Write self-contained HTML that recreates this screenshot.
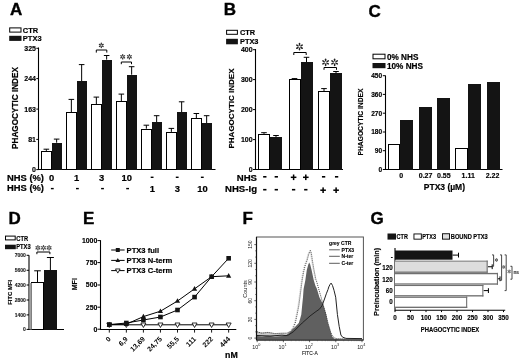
<!DOCTYPE html><html><head><meta charset="utf-8"><style>html,body{margin:0;padding:0;background:#fff;}svg{display:block;font-family:"Liberation Sans",sans-serif;filter:grayscale(1);}</style></head><body>
<svg width="520" height="361" viewBox="0 0 520 361">
<rect width="520" height="361" fill="#fff"/>
<text x="10.00" y="15.30" font-size="17" font-weight="bold" text-anchor="start" fill="#000"  stroke="#000" stroke-width="0.374">A</text>
<text x="223.80" y="15.20" font-size="17" font-weight="bold" text-anchor="start" fill="#000"  stroke="#000" stroke-width="0.374">B</text>
<text x="368.60" y="16.60" font-size="17" font-weight="bold" text-anchor="start" fill="#000"  stroke="#000" stroke-width="0.374">C</text>
<text x="8.40" y="223.80" font-size="17" font-weight="bold" text-anchor="start" fill="#000"  stroke="#000" stroke-width="0.374">D</text>
<text x="83.00" y="224.00" font-size="17" font-weight="bold" text-anchor="start" fill="#000"  stroke="#000" stroke-width="0.374">E</text>
<text x="242.60" y="224.00" font-size="17" font-weight="bold" text-anchor="start" fill="#000"  stroke="#000" stroke-width="0.374">F</text>
<text x="370.40" y="224.00" font-size="17" font-weight="bold" text-anchor="start" fill="#000"  stroke="#000" stroke-width="0.374">G</text>
<rect x="9.70" y="27.90" width="11.30" height="4.20" fill="#fff" stroke="#000" stroke-width="1"/>
<text x="22.80" y="32.80" font-size="7.5" font-weight="bold" text-anchor="start" fill="#000"  stroke="#000" stroke-width="0.165">CTR</text>
<rect x="9.20" y="35.80" width="12.30" height="5.10" fill="#141414"/>
<text x="22.80" y="41.00" font-size="7.5" font-weight="bold" text-anchor="start" fill="#000"  stroke="#000" stroke-width="0.165">PTX3</text>
<line x1="38.50" y1="47.50" x2="38.50" y2="170.00" stroke="#000" stroke-width="1.1" />
<line x1="38.50" y1="169.50" x2="215.50" y2="169.50" stroke="#000" stroke-width="1.1" />
<line x1="36.30" y1="48.30" x2="38.50" y2="48.30" stroke="#000" stroke-width="1" />
<text x="36.00" y="50.80" font-size="7" font-weight="bold" text-anchor="end" fill="#000"  stroke="#000" stroke-width="0.154">325</text>
<line x1="36.30" y1="78.60" x2="38.50" y2="78.60" stroke="#000" stroke-width="1" />
<text x="36.00" y="81.10" font-size="7" font-weight="bold" text-anchor="end" fill="#000"  stroke="#000" stroke-width="0.154">244</text>
<line x1="36.30" y1="109.10" x2="38.50" y2="109.10" stroke="#000" stroke-width="1" />
<text x="36.00" y="111.60" font-size="7" font-weight="bold" text-anchor="end" fill="#000"  stroke="#000" stroke-width="0.154">163</text>
<line x1="36.30" y1="139.40" x2="38.50" y2="139.40" stroke="#000" stroke-width="1" />
<text x="36.00" y="141.90" font-size="7" font-weight="bold" text-anchor="end" fill="#000"  stroke="#000" stroke-width="0.154">81</text>
<line x1="36.30" y1="169.60" x2="38.50" y2="169.60" stroke="#000" stroke-width="1" />
<text x="36.00" y="172.10" font-size="7" font-weight="bold" text-anchor="end" fill="#000"  stroke="#000" stroke-width="0.154">0</text>
<text transform="translate(14.80,108.00) rotate(-90) scale(1,1)" font-size="8.2" font-weight="bold" text-anchor="middle" fill="#000" dy="2.95" stroke="#000" stroke-width="0.180">PHAGOCYTIC INDEX</text>
<line x1="46.35" y1="150.90" x2="46.35" y2="149.20" stroke="#000" stroke-width="1.0" />
<line x1="43.55" y1="149.20" x2="49.15" y2="149.20" stroke="#000" stroke-width="1.0" />
<line x1="56.65" y1="142.70" x2="56.65" y2="139.10" stroke="#000" stroke-width="1.0" />
<line x1="53.85" y1="139.10" x2="59.45" y2="139.10" stroke="#000" stroke-width="1.0" />
<rect x="41.50" y="151.50" width="10.00" height="18.00" fill="#fff" stroke="#000" stroke-width="1.0"/>
<rect x="52.00" y="143.00" width="10.00" height="27.00" fill="#141414"/>
<line x1="71.35" y1="112.40" x2="71.35" y2="99.40" stroke="#000" stroke-width="1.0" />
<line x1="68.55" y1="99.40" x2="74.15" y2="99.40" stroke="#000" stroke-width="1.0" />
<line x1="81.65" y1="81.10" x2="81.65" y2="64.60" stroke="#000" stroke-width="1.0" />
<line x1="78.85" y1="64.60" x2="84.45" y2="64.60" stroke="#000" stroke-width="1.0" />
<rect x="66.50" y="112.50" width="10.00" height="57.00" fill="#fff" stroke="#000" stroke-width="1.0"/>
<rect x="77.00" y="81.00" width="10.00" height="89.00" fill="#141414"/>
<line x1="96.35" y1="104.40" x2="96.35" y2="97.10" stroke="#000" stroke-width="1.0" />
<line x1="93.55" y1="97.10" x2="99.15" y2="97.10" stroke="#000" stroke-width="1.0" />
<line x1="106.65" y1="59.60" x2="106.65" y2="55.50" stroke="#000" stroke-width="1.0" />
<line x1="103.85" y1="55.50" x2="109.45" y2="55.50" stroke="#000" stroke-width="1.0" />
<rect x="91.50" y="104.50" width="10.00" height="65.00" fill="#fff" stroke="#000" stroke-width="1.0"/>
<rect x="102.00" y="60.00" width="10.00" height="110.00" fill="#141414"/>
<line x1="121.35" y1="101.10" x2="121.35" y2="94.10" stroke="#000" stroke-width="1.0" />
<line x1="118.55" y1="94.10" x2="124.15" y2="94.10" stroke="#000" stroke-width="1.0" />
<line x1="131.65" y1="74.70" x2="131.65" y2="66.70" stroke="#000" stroke-width="1.0" />
<line x1="128.85" y1="66.70" x2="134.45" y2="66.70" stroke="#000" stroke-width="1.0" />
<rect x="116.50" y="101.50" width="10.00" height="68.00" fill="#fff" stroke="#000" stroke-width="1.0"/>
<rect x="127.00" y="75.00" width="10.00" height="95.00" fill="#141414"/>
<line x1="146.35" y1="128.70" x2="146.35" y2="125.20" stroke="#000" stroke-width="1.0" />
<line x1="143.55" y1="125.20" x2="149.15" y2="125.20" stroke="#000" stroke-width="1.0" />
<line x1="156.65" y1="122.00" x2="156.65" y2="115.70" stroke="#000" stroke-width="1.0" />
<line x1="153.85" y1="115.70" x2="159.45" y2="115.70" stroke="#000" stroke-width="1.0" />
<rect x="141.50" y="129.50" width="10.00" height="40.00" fill="#fff" stroke="#000" stroke-width="1.0"/>
<rect x="152.00" y="122.00" width="10.00" height="48.00" fill="#141414"/>
<line x1="171.35" y1="131.90" x2="171.35" y2="128.40" stroke="#000" stroke-width="1.0" />
<line x1="168.55" y1="128.40" x2="174.15" y2="128.40" stroke="#000" stroke-width="1.0" />
<line x1="181.65" y1="112.00" x2="181.65" y2="101.80" stroke="#000" stroke-width="1.0" />
<line x1="178.85" y1="101.80" x2="184.45" y2="101.80" stroke="#000" stroke-width="1.0" />
<rect x="166.50" y="132.50" width="10.00" height="37.00" fill="#fff" stroke="#000" stroke-width="1.0"/>
<rect x="177.00" y="112.00" width="10.00" height="58.00" fill="#141414"/>
<line x1="196.35" y1="118.40" x2="196.35" y2="113.50" stroke="#000" stroke-width="1.0" />
<line x1="193.55" y1="113.50" x2="199.15" y2="113.50" stroke="#000" stroke-width="1.0" />
<line x1="206.65" y1="123.30" x2="206.65" y2="115.70" stroke="#000" stroke-width="1.0" />
<line x1="203.85" y1="115.70" x2="209.45" y2="115.70" stroke="#000" stroke-width="1.0" />
<rect x="191.50" y="118.50" width="10.00" height="51.00" fill="#fff" stroke="#000" stroke-width="1.0"/>
<rect x="202.00" y="123.00" width="10.00" height="47.00" fill="#141414"/>
<polyline points="96.30,52.60 96.30,50.00 106.80,50.00 106.80,52.60" fill="none" stroke="#000" stroke-width="1" />
<line x1="101.30" y1="44.86" x2="101.30" y2="43.91" stroke="#333" stroke-width="0.91" stroke-opacity="0.75"/>
<line x1="101.30" y1="43.91" x2="101.30" y2="43.24" stroke="#333" stroke-width="1.30" stroke-linecap="round"/>
<line x1="101.77" y1="45.13" x2="102.59" y2="44.66" stroke="#333" stroke-width="0.91" stroke-opacity="0.75"/>
<line x1="102.59" y1="44.66" x2="103.17" y2="44.32" stroke="#333" stroke-width="1.30" stroke-linecap="round"/>
<line x1="100.83" y1="45.13" x2="100.01" y2="44.66" stroke="#333" stroke-width="0.91" stroke-opacity="0.75"/>
<line x1="100.01" y1="44.66" x2="99.43" y2="44.32" stroke="#333" stroke-width="1.30" stroke-linecap="round"/>
<line x1="101.30" y1="45.94" x2="101.30" y2="46.88" stroke="#333" stroke-width="0.91" stroke-opacity="0.75"/>
<line x1="101.30" y1="46.88" x2="101.30" y2="47.56" stroke="#333" stroke-width="1.30" stroke-linecap="round"/>
<line x1="100.83" y1="45.67" x2="100.01" y2="46.14" stroke="#333" stroke-width="0.91" stroke-opacity="0.75"/>
<line x1="100.01" y1="46.14" x2="99.43" y2="46.48" stroke="#333" stroke-width="1.30" stroke-linecap="round"/>
<line x1="101.77" y1="45.67" x2="102.59" y2="46.14" stroke="#333" stroke-width="0.91" stroke-opacity="0.75"/>
<line x1="102.59" y1="46.14" x2="103.17" y2="46.48" stroke="#333" stroke-width="1.30" stroke-linecap="round"/>
<polyline points="121.30,64.20 121.30,62.00 131.50,62.00 131.50,64.20" fill="none" stroke="#000" stroke-width="1" />
<line x1="122.70" y1="56.26" x2="122.70" y2="55.31" stroke="#333" stroke-width="0.91" stroke-opacity="0.75"/>
<line x1="122.70" y1="55.31" x2="122.70" y2="54.64" stroke="#333" stroke-width="1.30" stroke-linecap="round"/>
<line x1="123.17" y1="56.53" x2="123.99" y2="56.06" stroke="#333" stroke-width="0.91" stroke-opacity="0.75"/>
<line x1="123.99" y1="56.06" x2="124.57" y2="55.72" stroke="#333" stroke-width="1.30" stroke-linecap="round"/>
<line x1="122.23" y1="56.53" x2="121.41" y2="56.06" stroke="#333" stroke-width="0.91" stroke-opacity="0.75"/>
<line x1="121.41" y1="56.06" x2="120.83" y2="55.72" stroke="#333" stroke-width="1.30" stroke-linecap="round"/>
<line x1="122.70" y1="57.34" x2="122.70" y2="58.28" stroke="#333" stroke-width="0.91" stroke-opacity="0.75"/>
<line x1="122.70" y1="58.28" x2="122.70" y2="58.96" stroke="#333" stroke-width="1.30" stroke-linecap="round"/>
<line x1="122.23" y1="57.07" x2="121.41" y2="57.54" stroke="#333" stroke-width="0.91" stroke-opacity="0.75"/>
<line x1="121.41" y1="57.54" x2="120.83" y2="57.88" stroke="#333" stroke-width="1.30" stroke-linecap="round"/>
<line x1="123.17" y1="57.07" x2="123.99" y2="57.54" stroke="#333" stroke-width="0.91" stroke-opacity="0.75"/>
<line x1="123.99" y1="57.54" x2="124.57" y2="57.88" stroke="#333" stroke-width="1.30" stroke-linecap="round"/>
<line x1="129.40" y1="56.26" x2="129.40" y2="55.31" stroke="#333" stroke-width="0.91" stroke-opacity="0.75"/>
<line x1="129.40" y1="55.31" x2="129.40" y2="54.64" stroke="#333" stroke-width="1.30" stroke-linecap="round"/>
<line x1="129.87" y1="56.53" x2="130.69" y2="56.06" stroke="#333" stroke-width="0.91" stroke-opacity="0.75"/>
<line x1="130.69" y1="56.06" x2="131.27" y2="55.72" stroke="#333" stroke-width="1.30" stroke-linecap="round"/>
<line x1="128.93" y1="56.53" x2="128.11" y2="56.06" stroke="#333" stroke-width="0.91" stroke-opacity="0.75"/>
<line x1="128.11" y1="56.06" x2="127.53" y2="55.72" stroke="#333" stroke-width="1.30" stroke-linecap="round"/>
<line x1="129.40" y1="57.34" x2="129.40" y2="58.28" stroke="#333" stroke-width="0.91" stroke-opacity="0.75"/>
<line x1="129.40" y1="58.28" x2="129.40" y2="58.96" stroke="#333" stroke-width="1.30" stroke-linecap="round"/>
<line x1="128.93" y1="57.07" x2="128.11" y2="57.54" stroke="#333" stroke-width="0.91" stroke-opacity="0.75"/>
<line x1="128.11" y1="57.54" x2="127.53" y2="57.88" stroke="#333" stroke-width="1.30" stroke-linecap="round"/>
<line x1="129.87" y1="57.07" x2="130.69" y2="57.54" stroke="#333" stroke-width="0.91" stroke-opacity="0.75"/>
<line x1="130.69" y1="57.54" x2="131.27" y2="57.88" stroke="#333" stroke-width="1.30" stroke-linecap="round"/>
<text x="44.00" y="180.60" font-size="9.4" font-weight="bold" text-anchor="end" fill="#000"  stroke="#000" stroke-width="0.207">NHS (%)</text>
<text x="44.00" y="190.70" font-size="9.4" font-weight="bold" text-anchor="end" fill="#000"  stroke="#000" stroke-width="0.207">HHS (%)</text>
<text x="51.50" y="180.80" font-size="9.4" font-weight="bold" text-anchor="middle" fill="#000"  stroke="#000" stroke-width="0.207">0</text>
<rect x="50.90" y="187.90" width="2.80" height="1.40" fill="#000"/>
<text x="76.60" y="180.80" font-size="9.4" font-weight="bold" text-anchor="middle" fill="#000"  stroke="#000" stroke-width="0.207">1</text>
<rect x="76.00" y="187.90" width="2.80" height="1.40" fill="#000"/>
<text x="101.70" y="180.80" font-size="9.4" font-weight="bold" text-anchor="middle" fill="#000"  stroke="#000" stroke-width="0.207">3</text>
<rect x="101.10" y="187.90" width="2.80" height="1.40" fill="#000"/>
<text x="126.80" y="180.80" font-size="9.4" font-weight="bold" text-anchor="middle" fill="#000"  stroke="#000" stroke-width="0.207">10</text>
<rect x="126.20" y="187.90" width="2.80" height="1.40" fill="#000"/>
<rect x="150.70" y="176.60" width="2.80" height="1.40" fill="#000"/>
<text x="152.30" y="191.80" font-size="9.4" font-weight="bold" text-anchor="middle" fill="#000"  stroke="#000" stroke-width="0.207">1</text>
<rect x="175.80" y="176.60" width="2.80" height="1.40" fill="#000"/>
<text x="177.40" y="191.80" font-size="9.4" font-weight="bold" text-anchor="middle" fill="#000"  stroke="#000" stroke-width="0.207">3</text>
<rect x="200.90" y="176.60" width="2.80" height="1.40" fill="#000"/>
<text x="202.50" y="191.80" font-size="9.4" font-weight="bold" text-anchor="middle" fill="#000"  stroke="#000" stroke-width="0.207">10</text>
<rect x="226.60" y="30.30" width="10.80" height="4.00" fill="#fff" stroke="#000" stroke-width="1"/>
<text x="240.00" y="34.90" font-size="7.4" font-weight="bold" text-anchor="start" fill="#000"  stroke="#000" stroke-width="0.163">CTR</text>
<rect x="226.10" y="38.80" width="11.80" height="5.50" fill="#141414"/>
<text x="240.00" y="44.30" font-size="7.4" font-weight="bold" text-anchor="start" fill="#000"  stroke="#000" stroke-width="0.163">PTX3</text>
<line x1="255.50" y1="49.00" x2="255.50" y2="170.00" stroke="#000" stroke-width="1.1" />
<line x1="255.50" y1="169.50" x2="343.00" y2="169.50" stroke="#000" stroke-width="1.1" />
<line x1="253.00" y1="49.70" x2="255.50" y2="49.70" stroke="#000" stroke-width="1" />
<text x="252.60" y="52.20" font-size="7" font-weight="bold" text-anchor="end" fill="#000"  stroke="#000" stroke-width="0.154">400</text>
<line x1="253.00" y1="79.60" x2="255.50" y2="79.60" stroke="#000" stroke-width="1" />
<text x="252.60" y="82.10" font-size="7" font-weight="bold" text-anchor="end" fill="#000"  stroke="#000" stroke-width="0.154">300</text>
<line x1="253.00" y1="109.60" x2="255.50" y2="109.60" stroke="#000" stroke-width="1" />
<text x="252.60" y="112.10" font-size="7" font-weight="bold" text-anchor="end" fill="#000"  stroke="#000" stroke-width="0.154">200</text>
<line x1="253.00" y1="139.60" x2="255.50" y2="139.60" stroke="#000" stroke-width="1" />
<text x="252.60" y="142.10" font-size="7" font-weight="bold" text-anchor="end" fill="#000"  stroke="#000" stroke-width="0.154">100</text>
<line x1="253.00" y1="169.50" x2="255.50" y2="169.50" stroke="#000" stroke-width="1" />
<text x="252.60" y="172.00" font-size="7" font-weight="bold" text-anchor="end" fill="#000"  stroke="#000" stroke-width="0.154">0</text>
<text transform="translate(231.20,108.50) rotate(-90) scale(1,1)" font-size="8.0" font-weight="bold" text-anchor="middle" fill="#000" dy="2.88" stroke="#000" stroke-width="0.176">PHAGOCYTIC INDEX</text>
<line x1="264.00" y1="133.90" x2="264.00" y2="132.70" stroke="#000" stroke-width="1.0" />
<line x1="261.20" y1="132.70" x2="266.80" y2="132.70" stroke="#000" stroke-width="1.0" />
<line x1="276.00" y1="137.00" x2="276.00" y2="135.50" stroke="#000" stroke-width="1.0" />
<line x1="273.20" y1="135.50" x2="278.80" y2="135.50" stroke="#000" stroke-width="1.0" />
<rect x="258.50" y="134.50" width="11.00" height="35.00" fill="#fff" stroke="#000" stroke-width="1.0"/>
<rect x="270.00" y="137.00" width="12.00" height="33.00" fill="#141414"/>
<line x1="294.50" y1="79.40" x2="294.50" y2="78.60" stroke="#000" stroke-width="1.0" />
<line x1="291.70" y1="78.60" x2="297.30" y2="78.60" stroke="#000" stroke-width="1.0" />
<line x1="306.50" y1="62.10" x2="306.50" y2="57.30" stroke="#000" stroke-width="1.0" />
<line x1="303.70" y1="57.30" x2="309.30" y2="57.30" stroke="#000" stroke-width="1.0" />
<rect x="289.50" y="79.50" width="11.00" height="90.00" fill="#fff" stroke="#000" stroke-width="1.0"/>
<rect x="301.00" y="62.00" width="12.00" height="108.00" fill="#141414"/>
<line x1="324.00" y1="91.00" x2="324.00" y2="88.60" stroke="#000" stroke-width="1.0" />
<line x1="321.20" y1="88.60" x2="326.80" y2="88.60" stroke="#000" stroke-width="1.0" />
<line x1="336.00" y1="73.10" x2="336.00" y2="71.50" stroke="#000" stroke-width="1.0" />
<line x1="333.20" y1="71.50" x2="338.80" y2="71.50" stroke="#000" stroke-width="1.0" />
<rect x="318.50" y="91.50" width="11.00" height="78.00" fill="#fff" stroke="#000" stroke-width="1.0"/>
<rect x="330.00" y="73.00" width="12.00" height="97.00" fill="#141414"/>
<polyline points="293.80,55.00 293.80,52.50 306.20,52.50 306.20,55.00" fill="none" stroke="#000" stroke-width="1" />
<line x1="299.50" y1="45.92" x2="299.50" y2="44.55" stroke="#222" stroke-width="1.05" stroke-opacity="0.75"/>
<line x1="299.50" y1="44.55" x2="299.50" y2="43.58" stroke="#222" stroke-width="1.50" stroke-linecap="round"/>
<line x1="300.18" y1="46.31" x2="301.36" y2="45.63" stroke="#222" stroke-width="1.05" stroke-opacity="0.75"/>
<line x1="301.36" y1="45.63" x2="302.20" y2="45.14" stroke="#222" stroke-width="1.50" stroke-linecap="round"/>
<line x1="298.82" y1="46.31" x2="297.64" y2="45.63" stroke="#222" stroke-width="1.05" stroke-opacity="0.75"/>
<line x1="297.64" y1="45.63" x2="296.80" y2="45.14" stroke="#222" stroke-width="1.50" stroke-linecap="round"/>
<line x1="299.50" y1="47.48" x2="299.50" y2="48.85" stroke="#222" stroke-width="1.05" stroke-opacity="0.75"/>
<line x1="299.50" y1="48.85" x2="299.50" y2="49.82" stroke="#222" stroke-width="1.50" stroke-linecap="round"/>
<line x1="298.82" y1="47.09" x2="297.64" y2="47.77" stroke="#222" stroke-width="1.05" stroke-opacity="0.75"/>
<line x1="297.64" y1="47.77" x2="296.80" y2="48.26" stroke="#222" stroke-width="1.50" stroke-linecap="round"/>
<line x1="300.18" y1="47.09" x2="301.36" y2="47.77" stroke="#222" stroke-width="1.05" stroke-opacity="0.75"/>
<line x1="301.36" y1="47.77" x2="302.20" y2="48.26" stroke="#222" stroke-width="1.50" stroke-linecap="round"/>
<polyline points="324.00,69.80 324.00,67.50 336.50,67.50 336.50,69.80" fill="none" stroke="#000" stroke-width="1" />
<line x1="325.60" y1="61.62" x2="325.60" y2="60.25" stroke="#222" stroke-width="1.05" stroke-opacity="0.75"/>
<line x1="325.60" y1="60.25" x2="325.60" y2="59.28" stroke="#222" stroke-width="1.50" stroke-linecap="round"/>
<line x1="326.28" y1="62.01" x2="327.46" y2="61.33" stroke="#222" stroke-width="1.05" stroke-opacity="0.75"/>
<line x1="327.46" y1="61.33" x2="328.30" y2="60.84" stroke="#222" stroke-width="1.50" stroke-linecap="round"/>
<line x1="324.92" y1="62.01" x2="323.74" y2="61.33" stroke="#222" stroke-width="1.05" stroke-opacity="0.75"/>
<line x1="323.74" y1="61.33" x2="322.90" y2="60.84" stroke="#222" stroke-width="1.50" stroke-linecap="round"/>
<line x1="325.60" y1="63.18" x2="325.60" y2="64.55" stroke="#222" stroke-width="1.05" stroke-opacity="0.75"/>
<line x1="325.60" y1="64.55" x2="325.60" y2="65.52" stroke="#222" stroke-width="1.50" stroke-linecap="round"/>
<line x1="324.92" y1="62.79" x2="323.74" y2="63.47" stroke="#222" stroke-width="1.05" stroke-opacity="0.75"/>
<line x1="323.74" y1="63.47" x2="322.90" y2="63.96" stroke="#222" stroke-width="1.50" stroke-linecap="round"/>
<line x1="326.28" y1="62.79" x2="327.46" y2="63.47" stroke="#222" stroke-width="1.05" stroke-opacity="0.75"/>
<line x1="327.46" y1="63.47" x2="328.30" y2="63.96" stroke="#222" stroke-width="1.50" stroke-linecap="round"/>
<line x1="334.60" y1="61.62" x2="334.60" y2="60.25" stroke="#222" stroke-width="1.05" stroke-opacity="0.75"/>
<line x1="334.60" y1="60.25" x2="334.60" y2="59.28" stroke="#222" stroke-width="1.50" stroke-linecap="round"/>
<line x1="335.28" y1="62.01" x2="336.46" y2="61.33" stroke="#222" stroke-width="1.05" stroke-opacity="0.75"/>
<line x1="336.46" y1="61.33" x2="337.30" y2="60.84" stroke="#222" stroke-width="1.50" stroke-linecap="round"/>
<line x1="333.92" y1="62.01" x2="332.74" y2="61.33" stroke="#222" stroke-width="1.05" stroke-opacity="0.75"/>
<line x1="332.74" y1="61.33" x2="331.90" y2="60.84" stroke="#222" stroke-width="1.50" stroke-linecap="round"/>
<line x1="334.60" y1="63.18" x2="334.60" y2="64.55" stroke="#222" stroke-width="1.05" stroke-opacity="0.75"/>
<line x1="334.60" y1="64.55" x2="334.60" y2="65.52" stroke="#222" stroke-width="1.50" stroke-linecap="round"/>
<line x1="333.92" y1="62.79" x2="332.74" y2="63.47" stroke="#222" stroke-width="1.05" stroke-opacity="0.75"/>
<line x1="332.74" y1="63.47" x2="331.90" y2="63.96" stroke="#222" stroke-width="1.50" stroke-linecap="round"/>
<line x1="335.28" y1="62.79" x2="336.46" y2="63.47" stroke="#222" stroke-width="1.05" stroke-opacity="0.75"/>
<line x1="336.46" y1="63.47" x2="337.30" y2="63.96" stroke="#222" stroke-width="1.50" stroke-linecap="round"/>
<text x="257.00" y="180.60" font-size="9.6" font-weight="bold" text-anchor="end" fill="#000"  stroke="#000" stroke-width="0.211">NHS</text>
<text x="257.00" y="192.20" font-size="9.6" font-weight="bold" text-anchor="end" fill="#000"  stroke="#000" stroke-width="0.211">NHS-Ig</text>
<rect x="263.15" y="176.00" width="3.30" height="1.60" fill="#000"/>
<rect x="263.15" y="188.90" width="3.30" height="1.60" fill="#000"/>
<rect x="274.65" y="176.00" width="3.30" height="1.60" fill="#000"/>
<rect x="274.65" y="188.90" width="3.30" height="1.60" fill="#000"/>
<rect x="290.80" y="176.55" width="5.60" height="1.50" fill="#000"/>
<rect x="292.85" y="174.50" width="1.50" height="5.60" fill="#000"/>
<rect x="291.95" y="188.90" width="3.30" height="1.60" fill="#000"/>
<rect x="303.00" y="176.55" width="5.60" height="1.50" fill="#000"/>
<rect x="305.05" y="174.50" width="1.50" height="5.60" fill="#000"/>
<rect x="304.15" y="188.90" width="3.30" height="1.60" fill="#000"/>
<rect x="321.95" y="176.00" width="3.30" height="1.60" fill="#000"/>
<rect x="320.30" y="189.45" width="5.60" height="1.50" fill="#000"/>
<rect x="322.35" y="187.40" width="1.50" height="5.60" fill="#000"/>
<rect x="334.95" y="176.00" width="3.30" height="1.60" fill="#000"/>
<rect x="333.30" y="189.45" width="5.60" height="1.50" fill="#000"/>
<rect x="335.35" y="187.40" width="1.50" height="5.60" fill="#000"/>
<rect x="373.00" y="54.20" width="12.00" height="4.60" fill="#fff" stroke="#000" stroke-width="1"/>
<text x="387.00" y="59.50" font-size="8.2" font-weight="bold" text-anchor="start" fill="#000"  stroke="#000" stroke-width="0.180">0% NHS</text>
<rect x="372.50" y="63.00" width="13.00" height="5.20" fill="#141414"/>
<text x="387.00" y="68.50" font-size="8.2" font-weight="bold" text-anchor="start" fill="#000"  stroke="#000" stroke-width="0.180">10% NHS</text>
<line x1="385.50" y1="75.50" x2="385.50" y2="170.00" stroke="#000" stroke-width="1.1" />
<line x1="385.50" y1="169.50" x2="502.50" y2="169.50" stroke="#000" stroke-width="1.1" />
<line x1="382.80" y1="75.70" x2="385.50" y2="75.70" stroke="#000" stroke-width="1" />
<text x="382.20" y="78.00" font-size="6.6" font-weight="bold" text-anchor="end" fill="#000"  stroke="#000" stroke-width="0.145">450</text>
<line x1="382.80" y1="94.40" x2="385.50" y2="94.40" stroke="#000" stroke-width="1" />
<text x="382.20" y="96.70" font-size="6.6" font-weight="bold" text-anchor="end" fill="#000"  stroke="#000" stroke-width="0.145">360</text>
<line x1="382.80" y1="113.20" x2="385.50" y2="113.20" stroke="#000" stroke-width="1" />
<text x="382.20" y="115.50" font-size="6.6" font-weight="bold" text-anchor="end" fill="#000"  stroke="#000" stroke-width="0.145">270</text>
<line x1="382.80" y1="132.00" x2="385.50" y2="132.00" stroke="#000" stroke-width="1" />
<text x="382.20" y="134.30" font-size="6.6" font-weight="bold" text-anchor="end" fill="#000"  stroke="#000" stroke-width="0.145">180</text>
<line x1="382.80" y1="150.70" x2="385.50" y2="150.70" stroke="#000" stroke-width="1" />
<text x="382.20" y="153.00" font-size="6.6" font-weight="bold" text-anchor="end" fill="#000"  stroke="#000" stroke-width="0.145">90</text>
<line x1="382.80" y1="169.50" x2="385.50" y2="169.50" stroke="#000" stroke-width="1" />
<text x="382.20" y="171.80" font-size="6.6" font-weight="bold" text-anchor="end" fill="#000"  stroke="#000" stroke-width="0.145">0</text>
<text transform="translate(360.70,122.00) rotate(-90) scale(1,1)" font-size="6.7" font-weight="bold" text-anchor="middle" fill="#000" dy="2.41" stroke="#000" stroke-width="0.147">PHAGOCYTIC INDEX</text>
<rect x="388.50" y="144.50" width="11.00" height="25.00" fill="#fff" stroke="#000" stroke-width="1.0"/>
<rect x="400.00" y="120.00" width="13.00" height="50.00" fill="#141414"/>
<rect x="419.00" y="107.00" width="13.00" height="63.00" fill="#141414"/>
<rect x="437.00" y="98.00" width="13.00" height="72.00" fill="#141414"/>
<rect x="455.50" y="148.50" width="12.00" height="21.00" fill="#fff" stroke="#000" stroke-width="1.0"/>
<rect x="468.00" y="84.00" width="13.00" height="86.00" fill="#141414"/>
<rect x="487.00" y="82.00" width="13.00" height="88.00" fill="#141414"/>
<text x="401.30" y="178.40" font-size="7" font-weight="bold" text-anchor="middle" fill="#000"  stroke="#000" stroke-width="0.154">0</text>
<text x="425.60" y="178.40" font-size="7" font-weight="bold" text-anchor="middle" fill="#000"  stroke="#000" stroke-width="0.154">0.27</text>
<text x="443.80" y="178.40" font-size="7" font-weight="bold" text-anchor="middle" fill="#000"  stroke="#000" stroke-width="0.154">0.55</text>
<text x="468.20" y="178.40" font-size="7" font-weight="bold" text-anchor="middle" fill="#000"  stroke="#000" stroke-width="0.154">1.11</text>
<text x="492.50" y="178.40" font-size="7" font-weight="bold" text-anchor="middle" fill="#000"  stroke="#000" stroke-width="0.154">2.22</text>
<text x="444.40" y="189.50" font-size="8.5" font-weight="bold" text-anchor="middle" fill="#000"  stroke="#000" stroke-width="0.187">PTX3 (µM)</text>
<rect x="5.50" y="236.10" width="9.70" height="3.80" fill="#fff" stroke="#000" stroke-width="1"/>
<text transform="translate(16.20,240.60) scale(0.84,1)" font-size="6.9" font-weight="bold" text-anchor="start" fill="#000"  stroke="#000" stroke-width="0.152">CTR</text>
<rect x="5.00" y="244.70" width="10.80" height="4.50" fill="#141414"/>
<text transform="translate(16.20,249.30) scale(0.84,1)" font-size="6.9" font-weight="bold" text-anchor="start" fill="#000"  stroke="#000" stroke-width="0.152">PTX3</text>
<line x1="29.00" y1="255.30" x2="29.00" y2="330.00" stroke="#000" stroke-width="1.1" />
<line x1="29.00" y1="329.50" x2="64.00" y2="329.50" stroke="#000" stroke-width="1.1" />
<line x1="26.60" y1="255.30" x2="29.00" y2="255.30" stroke="#000" stroke-width="1" />
<text x="25.90" y="257.10" font-size="5.0" font-weight="bold" text-anchor="end" fill="#222"  stroke="#222" stroke-width="0.110">7000</text>
<line x1="26.60" y1="270.30" x2="29.00" y2="270.30" stroke="#000" stroke-width="1" />
<text x="25.90" y="272.10" font-size="5.0" font-weight="bold" text-anchor="end" fill="#222"  stroke="#222" stroke-width="0.110">5600</text>
<line x1="26.60" y1="285.00" x2="29.00" y2="285.00" stroke="#000" stroke-width="1" />
<text x="25.90" y="286.80" font-size="5.0" font-weight="bold" text-anchor="end" fill="#222"  stroke="#222" stroke-width="0.110">4200</text>
<line x1="26.60" y1="300.00" x2="29.00" y2="300.00" stroke="#000" stroke-width="1" />
<text x="25.90" y="301.80" font-size="5.0" font-weight="bold" text-anchor="end" fill="#222"  stroke="#222" stroke-width="0.110">2800</text>
<line x1="26.60" y1="314.90" x2="29.00" y2="314.90" stroke="#000" stroke-width="1" />
<text x="25.90" y="316.70" font-size="5.0" font-weight="bold" text-anchor="end" fill="#222"  stroke="#222" stroke-width="0.110">1400</text>
<line x1="26.60" y1="329.40" x2="29.00" y2="329.40" stroke="#000" stroke-width="1" />
<text x="25.90" y="331.20" font-size="5.0" font-weight="bold" text-anchor="end" fill="#222"  stroke="#222" stroke-width="0.110">0</text>
<text transform="translate(9.40,292.40) rotate(-90) scale(1,1)" font-size="5.9" font-weight="bold" text-anchor="middle" fill="#000" dy="2.12" stroke="#000" stroke-width="0.130">FITC MFI</text>
<line x1="37.50" y1="282.40" x2="37.50" y2="270.80" stroke="#000" stroke-width="1.0" />
<line x1="34.20" y1="270.80" x2="40.80" y2="270.80" stroke="#000" stroke-width="1.0" />
<line x1="50.40" y1="270.00" x2="50.40" y2="257.50" stroke="#000" stroke-width="1.0" />
<line x1="46.90" y1="257.50" x2="53.90" y2="257.50" stroke="#000" stroke-width="1.0" />
<rect x="31.50" y="282.50" width="12.00" height="47.00" fill="#fff" stroke="#000" stroke-width="1.0"/>
<rect x="44.00" y="270.00" width="13.00" height="60.00" fill="#141414"/>
<rect x="29.50" y="283.00" width="2.30" height="46.50" fill="#a0a0a0"/>
<polyline points="36.90,254.20 36.90,252.00 49.90,252.00 49.90,254.20" fill="none" stroke="#000" stroke-width="1" />
<line x1="37.90" y1="247.26" x2="37.90" y2="246.31" stroke="#444" stroke-width="0.91" stroke-opacity="0.75"/>
<line x1="37.90" y1="246.31" x2="37.90" y2="245.64" stroke="#444" stroke-width="1.30" stroke-linecap="round"/>
<line x1="38.37" y1="247.53" x2="39.19" y2="247.06" stroke="#444" stroke-width="0.91" stroke-opacity="0.75"/>
<line x1="39.19" y1="247.06" x2="39.77" y2="246.72" stroke="#444" stroke-width="1.30" stroke-linecap="round"/>
<line x1="37.43" y1="247.53" x2="36.61" y2="247.06" stroke="#444" stroke-width="0.91" stroke-opacity="0.75"/>
<line x1="36.61" y1="247.06" x2="36.03" y2="246.72" stroke="#444" stroke-width="1.30" stroke-linecap="round"/>
<line x1="37.90" y1="248.34" x2="37.90" y2="249.29" stroke="#444" stroke-width="0.91" stroke-opacity="0.75"/>
<line x1="37.90" y1="249.29" x2="37.90" y2="249.96" stroke="#444" stroke-width="1.30" stroke-linecap="round"/>
<line x1="37.43" y1="248.07" x2="36.61" y2="248.54" stroke="#444" stroke-width="0.91" stroke-opacity="0.75"/>
<line x1="36.61" y1="248.54" x2="36.03" y2="248.88" stroke="#444" stroke-width="1.30" stroke-linecap="round"/>
<line x1="38.37" y1="248.07" x2="39.19" y2="248.54" stroke="#444" stroke-width="0.91" stroke-opacity="0.75"/>
<line x1="39.19" y1="248.54" x2="39.77" y2="248.88" stroke="#444" stroke-width="1.30" stroke-linecap="round"/>
<line x1="43.50" y1="247.26" x2="43.50" y2="246.31" stroke="#444" stroke-width="0.91" stroke-opacity="0.75"/>
<line x1="43.50" y1="246.31" x2="43.50" y2="245.64" stroke="#444" stroke-width="1.30" stroke-linecap="round"/>
<line x1="43.97" y1="247.53" x2="44.79" y2="247.06" stroke="#444" stroke-width="0.91" stroke-opacity="0.75"/>
<line x1="44.79" y1="247.06" x2="45.37" y2="246.72" stroke="#444" stroke-width="1.30" stroke-linecap="round"/>
<line x1="43.03" y1="247.53" x2="42.21" y2="247.06" stroke="#444" stroke-width="0.91" stroke-opacity="0.75"/>
<line x1="42.21" y1="247.06" x2="41.63" y2="246.72" stroke="#444" stroke-width="1.30" stroke-linecap="round"/>
<line x1="43.50" y1="248.34" x2="43.50" y2="249.29" stroke="#444" stroke-width="0.91" stroke-opacity="0.75"/>
<line x1="43.50" y1="249.29" x2="43.50" y2="249.96" stroke="#444" stroke-width="1.30" stroke-linecap="round"/>
<line x1="43.03" y1="248.07" x2="42.21" y2="248.54" stroke="#444" stroke-width="0.91" stroke-opacity="0.75"/>
<line x1="42.21" y1="248.54" x2="41.63" y2="248.88" stroke="#444" stroke-width="1.30" stroke-linecap="round"/>
<line x1="43.97" y1="248.07" x2="44.79" y2="248.54" stroke="#444" stroke-width="0.91" stroke-opacity="0.75"/>
<line x1="44.79" y1="248.54" x2="45.37" y2="248.88" stroke="#444" stroke-width="1.30" stroke-linecap="round"/>
<line x1="49.10" y1="247.26" x2="49.10" y2="246.31" stroke="#444" stroke-width="0.91" stroke-opacity="0.75"/>
<line x1="49.10" y1="246.31" x2="49.10" y2="245.64" stroke="#444" stroke-width="1.30" stroke-linecap="round"/>
<line x1="49.57" y1="247.53" x2="50.39" y2="247.06" stroke="#444" stroke-width="0.91" stroke-opacity="0.75"/>
<line x1="50.39" y1="247.06" x2="50.97" y2="246.72" stroke="#444" stroke-width="1.30" stroke-linecap="round"/>
<line x1="48.63" y1="247.53" x2="47.81" y2="247.06" stroke="#444" stroke-width="0.91" stroke-opacity="0.75"/>
<line x1="47.81" y1="247.06" x2="47.23" y2="246.72" stroke="#444" stroke-width="1.30" stroke-linecap="round"/>
<line x1="49.10" y1="248.34" x2="49.10" y2="249.29" stroke="#444" stroke-width="0.91" stroke-opacity="0.75"/>
<line x1="49.10" y1="249.29" x2="49.10" y2="249.96" stroke="#444" stroke-width="1.30" stroke-linecap="round"/>
<line x1="48.63" y1="248.07" x2="47.81" y2="248.54" stroke="#444" stroke-width="0.91" stroke-opacity="0.75"/>
<line x1="47.81" y1="248.54" x2="47.23" y2="248.88" stroke="#444" stroke-width="1.30" stroke-linecap="round"/>
<line x1="49.57" y1="248.07" x2="50.39" y2="248.54" stroke="#444" stroke-width="0.91" stroke-opacity="0.75"/>
<line x1="50.39" y1="248.54" x2="50.97" y2="248.88" stroke="#444" stroke-width="1.30" stroke-linecap="round"/>
<line x1="100.50" y1="240.20" x2="100.50" y2="330.00" stroke="#000" stroke-width="1.1" />
<line x1="100.50" y1="329.50" x2="236.30" y2="329.50" stroke="#000" stroke-width="1.1" />
<line x1="97.50" y1="240.60" x2="100.50" y2="240.60" stroke="#000" stroke-width="1" />
<text x="97.30" y="243.00" font-size="6.9" font-weight="bold" text-anchor="end" fill="#000"  stroke="#000" stroke-width="0.152">1000</text>
<line x1="97.50" y1="262.60" x2="100.50" y2="262.60" stroke="#000" stroke-width="1" />
<text x="97.30" y="265.00" font-size="6.9" font-weight="bold" text-anchor="end" fill="#000"  stroke="#000" stroke-width="0.152">750</text>
<line x1="97.50" y1="285.00" x2="100.50" y2="285.00" stroke="#000" stroke-width="1" />
<text x="97.30" y="287.40" font-size="6.9" font-weight="bold" text-anchor="end" fill="#000"  stroke="#000" stroke-width="0.152">500</text>
<line x1="97.50" y1="307.20" x2="100.50" y2="307.20" stroke="#000" stroke-width="1" />
<text x="97.30" y="309.60" font-size="6.9" font-weight="bold" text-anchor="end" fill="#000"  stroke="#000" stroke-width="0.152">250</text>
<line x1="97.50" y1="329.20" x2="100.50" y2="329.20" stroke="#000" stroke-width="1" />
<text x="97.30" y="331.60" font-size="6.9" font-weight="bold" text-anchor="end" fill="#000"  stroke="#000" stroke-width="0.152">0</text>
<text transform="translate(74.30,284.20) rotate(-90) scale(1,1)" font-size="7.0" font-weight="bold" text-anchor="middle" fill="#000" dy="2.52" stroke="#000" stroke-width="0.154">MFI</text>
<line x1="109.30" y1="329.50" x2="109.30" y2="332.60" stroke="#000" stroke-width="0.9" />
<line x1="126.35" y1="329.50" x2="126.35" y2="332.60" stroke="#000" stroke-width="0.9" />
<line x1="143.40" y1="329.50" x2="143.40" y2="332.60" stroke="#000" stroke-width="0.9" />
<line x1="160.45" y1="329.50" x2="160.45" y2="332.60" stroke="#000" stroke-width="0.9" />
<line x1="177.50" y1="329.50" x2="177.50" y2="332.60" stroke="#000" stroke-width="0.9" />
<line x1="194.55" y1="329.50" x2="194.55" y2="332.60" stroke="#000" stroke-width="0.9" />
<line x1="211.60" y1="329.50" x2="211.60" y2="332.60" stroke="#000" stroke-width="0.9" />
<line x1="228.65" y1="329.50" x2="228.65" y2="332.60" stroke="#000" stroke-width="0.9" />
<polyline points="109.30,324.80 126.35,324.80 143.40,324.80 160.45,324.80 177.50,324.80 194.55,324.80 211.60,324.80 228.65,324.80" fill="none" stroke="#000" stroke-width="1.0" />
<polyline points="109.30,324.60 126.35,324.20 143.40,316.60 160.45,311.20 177.50,301.00 194.55,288.80 211.60,276.70 228.65,275.80" fill="none" stroke="#000" stroke-width="1.0" />
<polyline points="109.30,324.60 126.35,323.00 143.40,320.00 160.45,317.00 177.50,310.00 194.55,297.10 211.60,276.70 228.65,258.30" fill="none" stroke="#000" stroke-width="1.0" />
<polygon points="106.80,323.00 111.80,323.00 109.30,327.50" fill="#fff" stroke="#000" stroke-width="0.8"/>
<polygon points="123.85,323.00 128.85,323.00 126.35,327.50" fill="#fff" stroke="#000" stroke-width="0.8"/>
<polygon points="140.90,323.00 145.90,323.00 143.40,327.50" fill="#fff" stroke="#000" stroke-width="0.8"/>
<polygon points="157.95,323.00 162.95,323.00 160.45,327.50" fill="#fff" stroke="#000" stroke-width="0.8"/>
<polygon points="175.00,323.00 180.00,323.00 177.50,327.50" fill="#fff" stroke="#000" stroke-width="0.8"/>
<polygon points="192.05,323.00 197.05,323.00 194.55,327.50" fill="#fff" stroke="#000" stroke-width="0.8"/>
<polygon points="209.10,323.00 214.10,323.00 211.60,327.50" fill="#fff" stroke="#000" stroke-width="0.8"/>
<polygon points="226.15,323.00 231.15,323.00 228.65,327.50" fill="#fff" stroke="#000" stroke-width="0.8"/>
<polygon points="109.30,321.79 106.70,326.47 111.90,326.47" fill="#141414"/>
<polygon points="126.35,321.39 123.75,326.07 128.95,326.07" fill="#141414"/>
<polygon points="143.40,313.79 140.80,318.47 146.00,318.47" fill="#141414"/>
<polygon points="160.45,308.39 157.85,313.07 163.05,313.07" fill="#141414"/>
<polygon points="177.50,298.19 174.90,302.87 180.10,302.87" fill="#141414"/>
<polygon points="194.55,285.99 191.95,290.67 197.15,290.67" fill="#141414"/>
<polygon points="211.60,273.89 209.00,278.57 214.20,278.57" fill="#141414"/>
<polygon points="228.65,272.99 226.05,277.67 231.25,277.67" fill="#141414"/>
<rect x="107.00" y="322.30" width="4.60" height="4.60" fill="#141414"/>
<rect x="124.05" y="320.70" width="4.60" height="4.60" fill="#141414"/>
<rect x="141.10" y="317.70" width="4.60" height="4.60" fill="#141414"/>
<rect x="158.15" y="314.70" width="4.60" height="4.60" fill="#141414"/>
<rect x="175.20" y="307.70" width="4.60" height="4.60" fill="#141414"/>
<rect x="192.25" y="294.80" width="4.60" height="4.60" fill="#141414"/>
<rect x="209.30" y="274.40" width="4.60" height="4.60" fill="#141414"/>
<rect x="226.35" y="256.00" width="4.60" height="4.60" fill="#141414"/>
<line x1="111.20" y1="250.00" x2="124.60" y2="250.00" stroke="#000" stroke-width="1" />
<rect x="115.80" y="248.00" width="4.00" height="4.00" fill="#141414"/>
<text x="126.60" y="252.70" font-size="7.6" font-weight="bold" text-anchor="start" fill="#000"  stroke="#000" stroke-width="0.167">PTX3 full</text>
<line x1="111.20" y1="260.40" x2="124.60" y2="260.40" stroke="#000" stroke-width="1" />
<polygon points="117.80,257.92 115.50,262.06 120.10,262.06" fill="#141414"/>
<text x="126.60" y="263.10" font-size="7.6" font-weight="bold" text-anchor="start" fill="#000"  stroke="#000" stroke-width="0.167">PTX3 N-term</text>
<line x1="111.20" y1="270.60" x2="124.60" y2="270.60" stroke="#000" stroke-width="1" />
<polygon points="115.50,268.94 120.10,268.94 117.80,273.08" fill="#fff" stroke="#000" stroke-width="0.8"/>
<text x="126.60" y="273.30" font-size="7.6" font-weight="bold" text-anchor="start" fill="#000"  stroke="#000" stroke-width="0.167">PTX3 C-term</text>
<text transform="translate(111.30,339.6) rotate(-45)" font-size="7.0" font-weight="bold" text-anchor="end">0</text>
<text transform="translate(128.35,339.6) rotate(-45)" font-size="7.0" font-weight="bold" text-anchor="end">6,9</text>
<text transform="translate(145.40,339.6) rotate(-45)" font-size="7.0" font-weight="bold" text-anchor="end">13,69</text>
<text transform="translate(162.45,339.6) rotate(-45)" font-size="7.0" font-weight="bold" text-anchor="end">24,75</text>
<text transform="translate(179.50,339.6) rotate(-45)" font-size="7.0" font-weight="bold" text-anchor="end">55,5</text>
<text transform="translate(196.55,339.6) rotate(-45)" font-size="7.0" font-weight="bold" text-anchor="end">111</text>
<text transform="translate(213.60,339.6) rotate(-45)" font-size="7.0" font-weight="bold" text-anchor="end">222</text>
<text transform="translate(230.65,339.6) rotate(-45)" font-size="7.0" font-weight="bold" text-anchor="end">444</text>
<text x="237.80" y="357.50" font-size="8.8" font-weight="bold" text-anchor="end" fill="#000"  stroke="#000" stroke-width="0.194">nM</text>
<polygon points="257,331.5 262,332.6 268,332.0 275,333.2 282,333.0 287,333.6 290,331.5 292,336 257,336.5" fill="#c8c8c8"/>
<polygon points="257.0,339.5 257.0,336.0 262.0,336.4 268.0,335.8 275.0,336.4 282.0,336.0 286.7,335.0 289.5,332.5 291.9,329.9 295.0,327.0 298.8,323.0 300.2,318.5 301.3,314.4 302.2,305.0 303.0,297.2 303.6,289.0 305.3,280.5 306.8,270.0 308.3,264.5 309.2,262.6 310.2,264.5 311.6,270.0 313.7,280.0 315.5,286.0 316.8,288.6 319.4,297.2 323.7,305.8 326.3,314.4 328.0,323.0 330.6,331.6 332.3,336.7 334.0,338.6 340.0,339.5" fill="#606060" stroke="none"/>
<polyline points="257.00,331.80 262.00,333.20 268.00,332.40 275.00,333.60 282.00,333.20 287.00,333.20 290.20,331.60 293.00,328.50 295.30,323.00 297.20,314.00 298.80,305.80 300.50,293.00 302.20,280.00 303.50,272.50 305.00,266.00 307.20,260.00 308.80,254.00 310.50,250.40 311.50,254.00 312.30,260.00 314.00,270.00 316.00,280.00 316.80,282.00 319.00,290.00 321.10,297.20 323.50,306.00 326.00,315.00 328.00,323.00 330.50,331.50 332.50,336.50 336.00,338.50 345.00,338.80" fill="none" stroke="#444" stroke-width="1.0" stroke-dasharray="1,1"/>
<polyline points="256.20,331.80 261.20,333.20 267.20,332.40 274.20,333.60 281.20,333.20 286.20,333.20 289.40,331.60 292.20,328.50 294.50,323.00 296.40,314.00 298.00,305.80 299.70,293.00 301.40,280.00 302.70,272.50 304.20,266.00 306.40,260.00 308.00,254.00 309.70,250.40 310.70,254.00 311.50,260.00 313.20,270.00 315.20,280.00" fill="none" stroke="#888" stroke-width="0.6" stroke-dasharray="0.8,1.2"/>
<polyline points="257.00,335.50 270.00,336.00 282.00,335.20 286.00,335.60 288.40,335.00 293.60,331.60 302.20,323.00 310.00,316.00 316.00,311.50 319.40,309.20 322.00,305.80 324.50,299.00 326.30,293.80 328.00,289.50 328.80,286.90 330.00,284.50 331.10,283.10 332.50,285.50 334.00,290.30 335.70,297.20 337.40,314.40 339.20,326.40 340.90,335.00 342.60,337.20 346.00,338.40 362.00,338.60" fill="none" stroke="#222" stroke-width="1.0" />
<rect x="256.50" y="237.00" width="106.90" height="103.00" fill="none" stroke="#555" stroke-width="1"/>
<line x1="256.50" y1="237.00" x2="256.50" y2="340.00" stroke="#111" stroke-width="1.2" />
<line x1="256.50" y1="340.00" x2="363.40" y2="340.00" stroke="#111" stroke-width="1.2" />
<line x1="254.30" y1="338.10" x2="256.50" y2="338.10" stroke="#222" stroke-width="0.7" />
<line x1="255.30" y1="331.87" x2="256.50" y2="331.87" stroke="#222" stroke-width="0.7" />
<line x1="255.30" y1="325.63" x2="256.50" y2="325.63" stroke="#222" stroke-width="0.7" />
<line x1="254.30" y1="319.40" x2="256.50" y2="319.40" stroke="#222" stroke-width="0.7" />
<line x1="255.30" y1="313.17" x2="256.50" y2="313.17" stroke="#222" stroke-width="0.7" />
<line x1="255.30" y1="306.94" x2="256.50" y2="306.94" stroke="#222" stroke-width="0.7" />
<line x1="254.30" y1="300.70" x2="256.50" y2="300.70" stroke="#222" stroke-width="0.7" />
<line x1="255.30" y1="294.47" x2="256.50" y2="294.47" stroke="#222" stroke-width="0.7" />
<line x1="255.30" y1="288.24" x2="256.50" y2="288.24" stroke="#222" stroke-width="0.7" />
<line x1="254.30" y1="282.00" x2="256.50" y2="282.00" stroke="#222" stroke-width="0.7" />
<line x1="255.30" y1="275.77" x2="256.50" y2="275.77" stroke="#222" stroke-width="0.7" />
<line x1="255.30" y1="269.54" x2="256.50" y2="269.54" stroke="#222" stroke-width="0.7" />
<line x1="254.30" y1="263.30" x2="256.50" y2="263.30" stroke="#222" stroke-width="0.7" />
<line x1="255.30" y1="257.07" x2="256.50" y2="257.07" stroke="#222" stroke-width="0.7" />
<line x1="255.30" y1="250.84" x2="256.50" y2="250.84" stroke="#222" stroke-width="0.7" />
<line x1="254.30" y1="244.61" x2="256.50" y2="244.61" stroke="#222" stroke-width="0.7" />
<text transform="translate(252.30,338.10) rotate(-90)" font-size="5" text-anchor="middle" fill="#222">0</text>
<text transform="translate(252.30,319.40) rotate(-90)" font-size="5" text-anchor="middle" fill="#222">30</text>
<text transform="translate(252.30,300.70) rotate(-90)" font-size="5" text-anchor="middle" fill="#222">60</text>
<text transform="translate(252.30,282.00) rotate(-90)" font-size="5" text-anchor="middle" fill="#222">90</text>
<text transform="translate(252.30,263.30) rotate(-90)" font-size="5" text-anchor="middle" fill="#222">120</text>
<text transform="translate(252.30,244.61) rotate(-90)" font-size="5" text-anchor="middle" fill="#222">150</text>
<text transform="translate(246.6,289.0) rotate(-90)" font-size="5.6" text-anchor="middle" fill="#222">Counts</text>
<line x1="257.20" y1="340.00" x2="257.20" y2="342.20" stroke="#222" stroke-width="0.7" />
<line x1="265.09" y1="340.00" x2="265.09" y2="341.20" stroke="#444" stroke-width="0.5" />
<line x1="269.70" y1="340.00" x2="269.70" y2="341.20" stroke="#444" stroke-width="0.5" />
<line x1="272.97" y1="340.00" x2="272.97" y2="341.20" stroke="#444" stroke-width="0.5" />
<line x1="275.51" y1="340.00" x2="275.51" y2="341.20" stroke="#444" stroke-width="0.5" />
<line x1="277.59" y1="340.00" x2="277.59" y2="341.20" stroke="#444" stroke-width="0.5" />
<line x1="279.34" y1="340.00" x2="279.34" y2="341.20" stroke="#444" stroke-width="0.5" />
<line x1="280.86" y1="340.00" x2="280.86" y2="341.20" stroke="#444" stroke-width="0.5" />
<line x1="282.20" y1="340.00" x2="282.20" y2="341.20" stroke="#444" stroke-width="0.5" />
<text x="256.40" y="348.8" font-size="5.4" text-anchor="middle" fill="#222">10<tspan font-size="3.8" dy="-2.4">0</tspan></text>
<line x1="283.40" y1="340.00" x2="283.40" y2="342.20" stroke="#222" stroke-width="0.7" />
<line x1="291.29" y1="340.00" x2="291.29" y2="341.20" stroke="#444" stroke-width="0.5" />
<line x1="295.90" y1="340.00" x2="295.90" y2="341.20" stroke="#444" stroke-width="0.5" />
<line x1="299.17" y1="340.00" x2="299.17" y2="341.20" stroke="#444" stroke-width="0.5" />
<line x1="301.71" y1="340.00" x2="301.71" y2="341.20" stroke="#444" stroke-width="0.5" />
<line x1="303.79" y1="340.00" x2="303.79" y2="341.20" stroke="#444" stroke-width="0.5" />
<line x1="305.54" y1="340.00" x2="305.54" y2="341.20" stroke="#444" stroke-width="0.5" />
<line x1="307.06" y1="340.00" x2="307.06" y2="341.20" stroke="#444" stroke-width="0.5" />
<line x1="308.40" y1="340.00" x2="308.40" y2="341.20" stroke="#444" stroke-width="0.5" />
<text x="282.60" y="348.8" font-size="5.4" text-anchor="middle" fill="#222">10<tspan font-size="3.8" dy="-2.4">1</tspan></text>
<line x1="309.60" y1="340.00" x2="309.60" y2="342.20" stroke="#222" stroke-width="0.7" />
<line x1="317.49" y1="340.00" x2="317.49" y2="341.20" stroke="#444" stroke-width="0.5" />
<line x1="322.10" y1="340.00" x2="322.10" y2="341.20" stroke="#444" stroke-width="0.5" />
<line x1="325.37" y1="340.00" x2="325.37" y2="341.20" stroke="#444" stroke-width="0.5" />
<line x1="327.91" y1="340.00" x2="327.91" y2="341.20" stroke="#444" stroke-width="0.5" />
<line x1="329.99" y1="340.00" x2="329.99" y2="341.20" stroke="#444" stroke-width="0.5" />
<line x1="331.74" y1="340.00" x2="331.74" y2="341.20" stroke="#444" stroke-width="0.5" />
<line x1="333.26" y1="340.00" x2="333.26" y2="341.20" stroke="#444" stroke-width="0.5" />
<line x1="334.60" y1="340.00" x2="334.60" y2="341.20" stroke="#444" stroke-width="0.5" />
<text x="308.80" y="348.8" font-size="5.4" text-anchor="middle" fill="#222">10<tspan font-size="3.8" dy="-2.4">2</tspan></text>
<line x1="335.80" y1="340.00" x2="335.80" y2="342.20" stroke="#222" stroke-width="0.7" />
<line x1="343.69" y1="340.00" x2="343.69" y2="341.20" stroke="#444" stroke-width="0.5" />
<line x1="348.30" y1="340.00" x2="348.30" y2="341.20" stroke="#444" stroke-width="0.5" />
<line x1="351.57" y1="340.00" x2="351.57" y2="341.20" stroke="#444" stroke-width="0.5" />
<line x1="354.11" y1="340.00" x2="354.11" y2="341.20" stroke="#444" stroke-width="0.5" />
<line x1="356.19" y1="340.00" x2="356.19" y2="341.20" stroke="#444" stroke-width="0.5" />
<line x1="357.94" y1="340.00" x2="357.94" y2="341.20" stroke="#444" stroke-width="0.5" />
<line x1="359.46" y1="340.00" x2="359.46" y2="341.20" stroke="#444" stroke-width="0.5" />
<line x1="360.80" y1="340.00" x2="360.80" y2="341.20" stroke="#444" stroke-width="0.5" />
<text x="335.00" y="348.8" font-size="5.4" text-anchor="middle" fill="#222">10<tspan font-size="3.8" dy="-2.4">3</tspan></text>
<line x1="362.00" y1="340.00" x2="362.00" y2="342.20" stroke="#222" stroke-width="0.7" />
<text x="361.20" y="348.8" font-size="5.4" text-anchor="middle" fill="#222">10<tspan font-size="3.8" dy="-2.4">4</tspan></text>
<text x="309.80" y="354.60" font-size="4.9" font-weight="normal" text-anchor="middle" fill="#222"  stroke="#222" stroke-width="0.108">FITC-A</text>
<text x="329.10" y="245.00" font-size="5.0" font-weight="bold" text-anchor="start" fill="#000"  stroke="#000" stroke-width="0.110">grey CTR</text>
<line x1="329.10" y1="249.80" x2="339.80" y2="249.80" stroke="#333" stroke-width="0.8" />
<text x="341.60" y="251.70" font-size="5.0" font-weight="bold" text-anchor="start" fill="#000"  stroke="#000" stroke-width="0.110">PTX3</text>
<line x1="329.10" y1="256.30" x2="339.80" y2="256.30" stroke="#333" stroke-width="0.8" />
<text x="341.60" y="258.20" font-size="5.0" font-weight="bold" text-anchor="start" fill="#000"  stroke="#000" stroke-width="0.110">N-ter</text>
<line x1="329.10" y1="263.30" x2="339.80" y2="263.30" stroke="#333" stroke-width="0.8" />
<text x="341.60" y="265.20" font-size="5.0" font-weight="bold" text-anchor="start" fill="#000"  stroke="#000" stroke-width="0.110">C-ter</text>
<rect x="387.50" y="233.50" width="8.50" height="6.10" fill="#141414"/>
<text transform="translate(396.60,239.40) scale(0.8,1)" font-size="6.9" font-weight="bold" text-anchor="start" fill="#000"  stroke="#000" stroke-width="0.152">CTR</text>
<rect x="413.95" y="233.95" width="7.40" height="5.20" fill="#fff" stroke="#000" stroke-width="0.9"/>
<text transform="translate(422.20,239.40) scale(0.8,1)" font-size="6.9" font-weight="bold" text-anchor="start" fill="#000"  stroke="#000" stroke-width="0.152">PTX3</text>
<rect x="442.45" y="233.75" width="7.10" height="5.40" fill="#ddd" stroke="#000" stroke-width="0.9"/>
<text transform="translate(450.80,239.40) scale(0.83,1)" font-size="6.9" font-weight="bold" text-anchor="start" fill="#000"  stroke="#000" stroke-width="0.152">BOUND PTX3</text>
<line x1="395.00" y1="248.00" x2="395.00" y2="310.80" stroke="#000" stroke-width="1.1" />
<line x1="395.00" y1="310.30" x2="505.20" y2="310.30" stroke="#000" stroke-width="1.1" />
<line x1="395.00" y1="310.30" x2="395.00" y2="312.10" stroke="#000" stroke-width="1" />
<text transform="translate(395.00,320.20) scale(0.84,1)" font-size="7.5" font-weight="bold" text-anchor="middle" fill="#000"  stroke="#000" stroke-width="0.165">0</text>
<line x1="410.50" y1="310.30" x2="410.50" y2="312.10" stroke="#000" stroke-width="1" />
<text transform="translate(410.50,320.20) scale(0.84,1)" font-size="7.5" font-weight="bold" text-anchor="middle" fill="#000"  stroke="#000" stroke-width="0.165">50</text>
<line x1="426.00" y1="310.30" x2="426.00" y2="312.10" stroke="#000" stroke-width="1" />
<text transform="translate(426.00,320.20) scale(0.84,1)" font-size="7.5" font-weight="bold" text-anchor="middle" fill="#000"  stroke="#000" stroke-width="0.165">100</text>
<line x1="441.50" y1="310.30" x2="441.50" y2="312.10" stroke="#000" stroke-width="1" />
<text transform="translate(441.50,320.20) scale(0.84,1)" font-size="7.5" font-weight="bold" text-anchor="middle" fill="#000"  stroke="#000" stroke-width="0.165">150</text>
<line x1="457.00" y1="310.30" x2="457.00" y2="312.10" stroke="#000" stroke-width="1" />
<text transform="translate(457.00,320.20) scale(0.84,1)" font-size="7.5" font-weight="bold" text-anchor="middle" fill="#000"  stroke="#000" stroke-width="0.165">200</text>
<line x1="472.50" y1="310.30" x2="472.50" y2="312.10" stroke="#000" stroke-width="1" />
<text transform="translate(472.50,320.20) scale(0.84,1)" font-size="7.5" font-weight="bold" text-anchor="middle" fill="#000"  stroke="#000" stroke-width="0.165">250</text>
<line x1="488.00" y1="310.30" x2="488.00" y2="312.10" stroke="#000" stroke-width="1" />
<text transform="translate(488.00,320.20) scale(0.84,1)" font-size="7.5" font-weight="bold" text-anchor="middle" fill="#000"  stroke="#000" stroke-width="0.165">300</text>
<line x1="503.50" y1="310.30" x2="503.50" y2="312.10" stroke="#000" stroke-width="1" />
<text transform="translate(503.50,320.20) scale(0.84,1)" font-size="7.5" font-weight="bold" text-anchor="middle" fill="#000"  stroke="#000" stroke-width="0.165">350</text>
<text transform="translate(450.00,332.40) scale(0.77,1)" font-size="7.6" font-weight="bold" text-anchor="middle" fill="#000"  stroke="#000" stroke-width="0.167">PHAGOCYTIC INDEX</text>
<text transform="translate(376.80,281.90) rotate(-90) scale(1.1,1)" font-size="6.6" font-weight="bold" text-anchor="middle" fill="#000" dy="2.38" stroke="#000" stroke-width="0.145">Preincubation (min)</text>
<line x1="452.50" y1="255.10" x2="458.50" y2="255.10" stroke="#000" stroke-width="1" />
<line x1="458.50" y1="252.70" x2="458.50" y2="257.50" stroke="#000" stroke-width="1" />
<rect x="395.00" y="250.50" width="57.50" height="9.20" fill="#141414"/>
<line x1="487.70" y1="266.75" x2="492.20" y2="266.75" stroke="#000" stroke-width="1" />
<line x1="492.20" y1="264.35" x2="492.20" y2="269.15" stroke="#000" stroke-width="1" />
<rect x="395.00" y="260.60" width="92.70" height="12.30" fill="#ddd"/>
<rect x="395.00" y="260.60" width="92.70" height="1.35" fill="#999"/>
<rect x="395.00" y="271.55" width="92.70" height="1.35" fill="#707070"/>
<rect x="486.60" y="260.60" width="1.10" height="12.30" fill="#707070"/>
<line x1="498.00" y1="278.80" x2="500.00" y2="278.80" stroke="#000" stroke-width="1" />
<line x1="500.00" y1="276.40" x2="500.00" y2="281.20" stroke="#000" stroke-width="1" />
<rect x="395.00" y="272.90" width="103.00" height="11.80" fill="#fff"/>
<rect x="395.00" y="272.90" width="103.00" height="1.35" fill="#707070"/>
<rect x="395.00" y="283.35" width="103.00" height="1.35" fill="#707070"/>
<rect x="496.90" y="272.90" width="1.10" height="11.80" fill="#707070"/>
<line x1="483.40" y1="290.60" x2="488.40" y2="290.60" stroke="#000" stroke-width="1" />
<line x1="488.40" y1="288.20" x2="488.40" y2="293.00" stroke="#000" stroke-width="1" />
<rect x="395.00" y="284.70" width="88.40" height="11.80" fill="#fff"/>
<rect x="395.00" y="284.70" width="88.40" height="1.35" fill="#707070"/>
<rect x="395.00" y="295.15" width="88.40" height="1.35" fill="#707070"/>
<rect x="482.30" y="284.70" width="1.10" height="11.80" fill="#707070"/>
<rect x="395.00" y="296.50" width="72.20" height="11.50" fill="#fff"/>
<rect x="395.00" y="296.50" width="72.20" height="1.35" fill="#707070"/>
<rect x="395.00" y="306.65" width="72.20" height="1.35" fill="#707070"/>
<rect x="466.10" y="296.50" width="1.10" height="11.50" fill="#707070"/>
<text transform="translate(392.70,258.90) scale(0.83,1)" font-size="7.5" font-weight="bold" text-anchor="end" fill="#000"  stroke="#000" stroke-width="0.165">-</text>
<text transform="translate(392.70,270.00) scale(0.83,1)" font-size="7.5" font-weight="bold" text-anchor="end" fill="#000"  stroke="#000" stroke-width="0.165">120</text>
<text transform="translate(392.70,281.60) scale(0.83,1)" font-size="7.5" font-weight="bold" text-anchor="end" fill="#000"  stroke="#000" stroke-width="0.165">120</text>
<text transform="translate(392.70,292.60) scale(0.83,1)" font-size="7.5" font-weight="bold" text-anchor="end" fill="#000"  stroke="#000" stroke-width="0.165">60</text>
<text transform="translate(392.70,304.40) scale(0.83,1)" font-size="7.5" font-weight="bold" text-anchor="end" fill="#000"  stroke="#000" stroke-width="0.165">0</text>
<polyline points="492.00,254.90 493.60,254.90 493.60,266.30 492.00,266.30" fill="none" stroke="#333" stroke-width="0.9" />
<polyline points="500.00,254.90 501.60,254.90 501.60,280.30 500.00,280.30" fill="none" stroke="#333" stroke-width="0.9" />
<polyline points="504.60,254.90 506.20,254.90 506.20,290.60 504.60,290.60" fill="none" stroke="#333" stroke-width="0.9" />
<polyline points="510.40,266.30 512.00,266.30 512.00,279.20 510.40,279.20" fill="none" stroke="#333" stroke-width="0.9" />
<line x1="496.40" y1="259.64" x2="496.40" y2="259.01" stroke="#333" stroke-width="0.56" stroke-opacity="0.75"/>
<line x1="496.40" y1="259.01" x2="496.40" y2="258.56" stroke="#333" stroke-width="0.80" stroke-linecap="round"/>
<line x1="496.71" y1="259.82" x2="497.26" y2="259.50" stroke="#333" stroke-width="0.56" stroke-opacity="0.75"/>
<line x1="497.26" y1="259.50" x2="497.65" y2="259.28" stroke="#333" stroke-width="0.80" stroke-linecap="round"/>
<line x1="496.09" y1="259.82" x2="495.54" y2="259.50" stroke="#333" stroke-width="0.56" stroke-opacity="0.75"/>
<line x1="495.54" y1="259.50" x2="495.15" y2="259.28" stroke="#333" stroke-width="0.80" stroke-linecap="round"/>
<line x1="496.40" y1="260.36" x2="496.40" y2="260.99" stroke="#333" stroke-width="0.56" stroke-opacity="0.75"/>
<line x1="496.40" y1="260.99" x2="496.40" y2="261.44" stroke="#333" stroke-width="0.80" stroke-linecap="round"/>
<line x1="496.09" y1="260.18" x2="495.54" y2="260.50" stroke="#333" stroke-width="0.56" stroke-opacity="0.75"/>
<line x1="495.54" y1="260.50" x2="495.15" y2="260.72" stroke="#333" stroke-width="0.80" stroke-linecap="round"/>
<line x1="496.71" y1="260.18" x2="497.26" y2="260.50" stroke="#333" stroke-width="0.56" stroke-opacity="0.75"/>
<line x1="497.26" y1="260.50" x2="497.65" y2="260.72" stroke="#333" stroke-width="0.80" stroke-linecap="round"/>
<line x1="503.80" y1="266.64" x2="503.80" y2="266.01" stroke="#333" stroke-width="0.56" stroke-opacity="0.75"/>
<line x1="503.80" y1="266.01" x2="503.80" y2="265.56" stroke="#333" stroke-width="0.80" stroke-linecap="round"/>
<line x1="504.11" y1="266.82" x2="504.66" y2="266.50" stroke="#333" stroke-width="0.56" stroke-opacity="0.75"/>
<line x1="504.66" y1="266.50" x2="505.05" y2="266.28" stroke="#333" stroke-width="0.80" stroke-linecap="round"/>
<line x1="503.49" y1="266.82" x2="502.94" y2="266.50" stroke="#333" stroke-width="0.56" stroke-opacity="0.75"/>
<line x1="502.94" y1="266.50" x2="502.55" y2="266.28" stroke="#333" stroke-width="0.80" stroke-linecap="round"/>
<line x1="503.80" y1="267.36" x2="503.80" y2="267.99" stroke="#333" stroke-width="0.56" stroke-opacity="0.75"/>
<line x1="503.80" y1="267.99" x2="503.80" y2="268.44" stroke="#333" stroke-width="0.80" stroke-linecap="round"/>
<line x1="503.49" y1="267.18" x2="502.94" y2="267.50" stroke="#333" stroke-width="0.56" stroke-opacity="0.75"/>
<line x1="502.94" y1="267.50" x2="502.55" y2="267.72" stroke="#333" stroke-width="0.80" stroke-linecap="round"/>
<line x1="504.11" y1="267.18" x2="504.66" y2="267.50" stroke="#333" stroke-width="0.56" stroke-opacity="0.75"/>
<line x1="504.66" y1="267.50" x2="505.05" y2="267.72" stroke="#333" stroke-width="0.80" stroke-linecap="round"/>
<line x1="509.20" y1="271.14" x2="509.20" y2="270.51" stroke="#333" stroke-width="0.56" stroke-opacity="0.75"/>
<line x1="509.20" y1="270.51" x2="509.20" y2="270.06" stroke="#333" stroke-width="0.80" stroke-linecap="round"/>
<line x1="509.51" y1="271.32" x2="510.06" y2="271.00" stroke="#333" stroke-width="0.56" stroke-opacity="0.75"/>
<line x1="510.06" y1="271.00" x2="510.45" y2="270.78" stroke="#333" stroke-width="0.80" stroke-linecap="round"/>
<line x1="508.89" y1="271.32" x2="508.34" y2="271.00" stroke="#333" stroke-width="0.56" stroke-opacity="0.75"/>
<line x1="508.34" y1="271.00" x2="507.95" y2="270.78" stroke="#333" stroke-width="0.80" stroke-linecap="round"/>
<line x1="509.20" y1="271.86" x2="509.20" y2="272.49" stroke="#333" stroke-width="0.56" stroke-opacity="0.75"/>
<line x1="509.20" y1="272.49" x2="509.20" y2="272.94" stroke="#333" stroke-width="0.80" stroke-linecap="round"/>
<line x1="508.89" y1="271.68" x2="508.34" y2="272.00" stroke="#333" stroke-width="0.56" stroke-opacity="0.75"/>
<line x1="508.34" y1="272.00" x2="507.95" y2="272.22" stroke="#333" stroke-width="0.80" stroke-linecap="round"/>
<line x1="509.51" y1="271.68" x2="510.06" y2="272.00" stroke="#333" stroke-width="0.56" stroke-opacity="0.75"/>
<line x1="510.06" y1="272.00" x2="510.45" y2="272.22" stroke="#333" stroke-width="0.80" stroke-linecap="round"/>
<text transform="translate(516.20,274.00) scale(0.9,1)" font-size="5.4" font-weight="bold" text-anchor="middle" fill="#333"  stroke="#333" stroke-width="0.119">ns</text>
</svg></body></html>
